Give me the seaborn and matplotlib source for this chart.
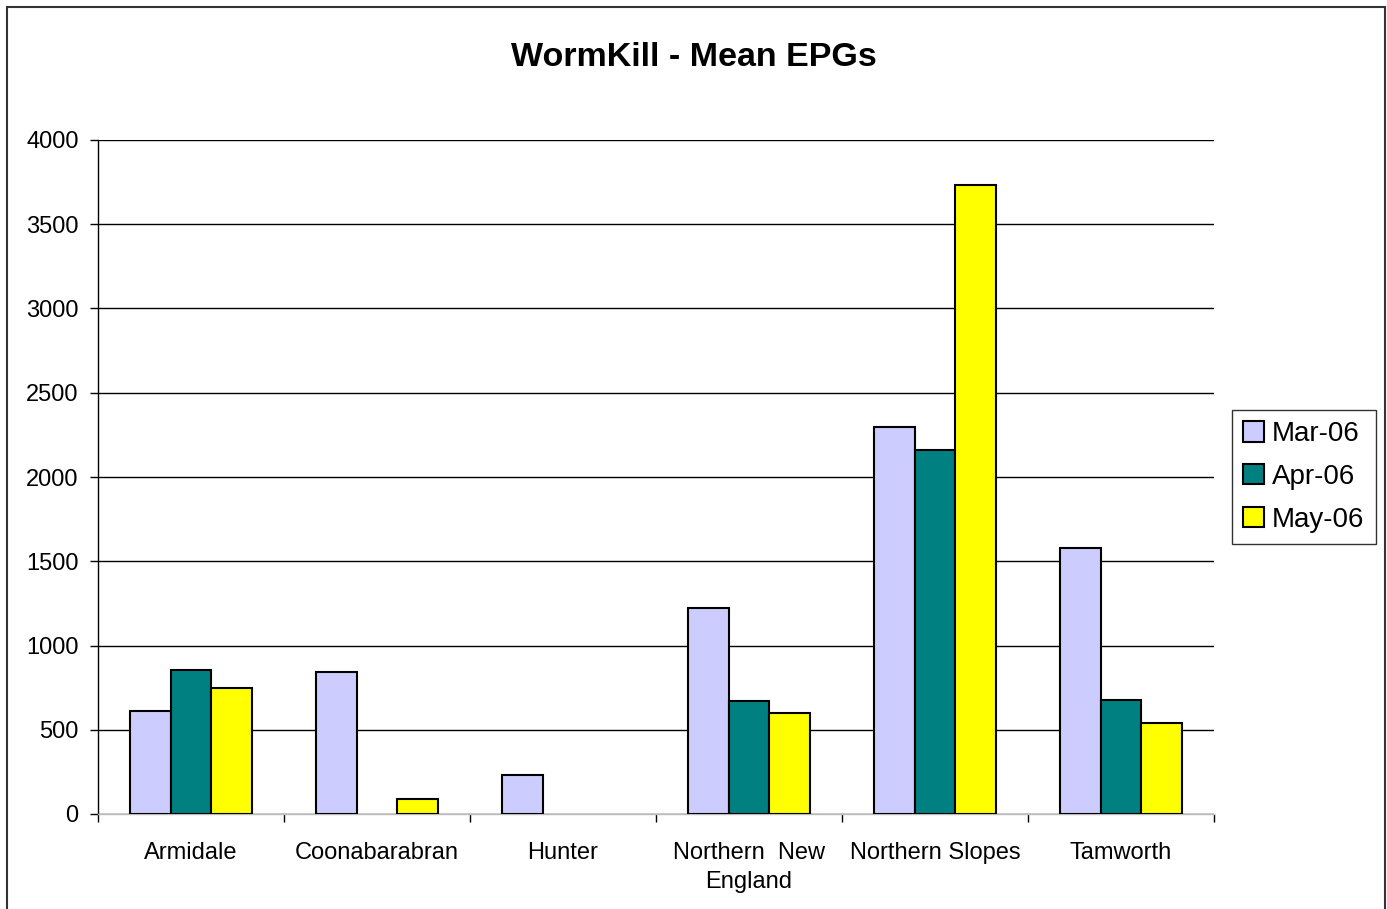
import numpy as np
import pandas as pd
import matplotlib
matplotlib.use("Agg")
import matplotlib.pyplot as plt
import seaborn as sns
from matplotlib.patches import Rectangle

# === Data ===
regions = ["Armidale", "Coonabarabran", "Hunter", "Northern  New\nEngland",
           "Northern Slopes", "Tamworth"]
months = ["Mar-06", "Apr-06", "May-06"]
mar_06 = [610, 841, 230, 1221, 2296, 1578]
apr_06 = [853, np.nan, np.nan, 671, 2160, 679]
may_06 = [745, 87, np.nan, 602, 3733, 543]
colors = ["#CCCCFF", "#008080", "#FFFF00"]

df = pd.DataFrame({"Region": regions, "Mar-06": mar_06,
                   "Apr-06": apr_06, "May-06": may_06})
long_df = df.melt(id_vars="Region", var_name="Month", value_name="EPG")

# === Chart ===
sns.set_theme(style="white")
plt.rcParams["font.family"] = ["Liberation Sans", "DejaVu Sans"]
plt.rcParams["text.color"] = "black"
plt.rcParams["xtick.color"] = "black"
plt.rcParams["ytick.color"] = "black"

fig = plt.figure(figsize=(13.87, 9.09), dpi=100)
ax = fig.add_axes([98 / 1387, 1 - 814 / 909, (1214 - 98) / 1387, (814 - 140) / 909])

sns.barplot(data=long_df, x="Region", y="EPG", hue="Month", hue_order=months,
            palette=colors, width=0.66, edgecolor="black", linewidth=1.5,
            saturation=1, ax=ax, zorder=3)

ax.set_ylim(0, 4000)
ax.set_xlim(-0.5, len(regions) - 0.5)
ax.set_yticks(np.arange(0, 4001, 500))
ax.yaxis.grid(True, color="black", linewidth=1, zorder=0)
ax.set_axisbelow(True)
ax.set_xlabel("")
ax.set_ylabel("")

for s in ["top", "right"]:
    ax.spines[s].set_visible(False)
ax.spines["left"].set_color("black")
ax.spines["left"].set_linewidth(1)
ax.spines["bottom"].set_color("#BBBBBB")
ax.spines["bottom"].set_linewidth(1)

ax.tick_params(axis="y", direction="out", length=6, width=1, color="black",
               labelsize=17, pad=8, left=True)
ax.tick_params(axis="x", which="major", length=0, labelsize=17, pad=20)
ax.set_xticks(np.arange(-0.5, len(regions)), minor=True)
ax.tick_params(axis="x", which="minor", direction="out", length=6, width=1,
               color="black", bottom=True)
for lbl in ax.get_xticklabels():
    lbl.set_horizontalalignment("center")
    lbl.set_multialignment("center")
    lbl.set_linespacing(1.45)

fig.text(0.5, 1 - 57 / 909, "WormKill - Mean EPGs", fontsize=24.5,
         fontweight="bold", ha="center", va="center")

leg = ax.legend(loc="center left", bbox_to_anchor=(1.016, 0.5), fontsize=20,
                frameon=True, fancybox=False, edgecolor="black",
                handlelength=0.75, handleheight=0.75, handletextpad=0.3,
                borderpad=0.4, labelspacing=0.6, borderaxespad=0)
leg.get_frame().set_linewidth(1)

# outer chart border
fig.patches.append(Rectangle((7 / 1387, -0.01), (1385 - 7) / 1387, 1.01 - 7 / 909,
                             transform=fig.transFigure, fill=False,
                             edgecolor="#333333", linewidth=1.5))

plt.savefig("out.png", dpi=100)
plt.close()
